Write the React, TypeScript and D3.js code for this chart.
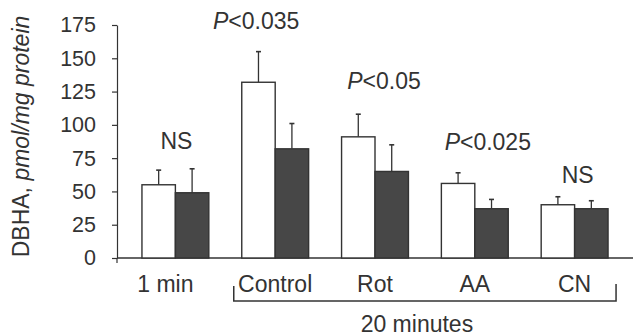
import React, { useEffect, useRef } from 'react';
import * as d3 from 'd3';

// values (DBHA, pmol/mg protein)
const groups = ['1 min', 'Control', 'Rot', 'AA', 'CN'];
const openMeans = [55, 132, 91, 56, 40];
const openErrors = [11, 23, 17, 8, 6];
const filledMeans = [49, 82, 65, 37, 37];
const filledErrors = [18, 19, 20, 7, 6];
const annotations = ['NS', 'P<0.035', 'P<0.05', 'P<0.025', 'NS'];
const annotationLevels = [82, 172, 127, 81, 56];
const yTicks = [0, 25, 50, 75, 100, 125, 150, 175];
const bracketLabel = '20 minutes';

const W = 633, H = 336;
const FONT = '"Liberation Sans", Arial, Helvetica, sans-serif';
const INK = '#333';
// the labels in the original are not quite centred over their groups
const annotationNudge = [1, -19, 9, 13, 3];

const App = () => {
  const ref = useRef<SVGSVGElement>(null);

  useEffect(() => {
    const svg = d3.select(ref.current);
    svg.selectAll('*').remove();

    const left = 117, right = W, top = 25, bottom = 258;

    const x = d3.scaleBand().domain(groups).range([left, right])
      .paddingInner(0.33).paddingOuter(0.25);
    const y = d3.scaleLinear().domain([0, 175]).range([bottom, top]);
    const bw = x.bandwidth() / 2;

    // y axis
    const yAxis = svg.append('g')
      .attr('transform', `translate(${left},0)`)
      .call(d3.axisLeft(y).tickValues(yTicks).tickSize(5).tickSizeOuter(0).tickPadding(16));
    yAxis.select('.domain').attr('stroke', INK).attr('stroke-width', 1.2);
    yAxis.selectAll('.tick line').attr('stroke', INK).attr('stroke-width', 1.2);
    yAxis.selectAll('.tick text')
      .attr('font-family', FONT).attr('font-size', 21.5).attr('fill', INK);

    // baseline
    svg.append('line')
      .attr('x1', left).attr('x2', right)
      .attr('y1', y(0)).attr('y2', y(0))
      .attr('stroke', INK).attr('stroke-width', 1.4);
    svg.append('line')
      .attr('x1', left).attr('x2', left)
      .attr('y1', y(0)).attr('y2', y(0) + 5)
      .attr('stroke', INK).attr('stroke-width', 1.2);

    const series = [
      { means: openMeans, errs: openErrors, fill: '#fff', off: 0 },
      { means: filledMeans, errs: filledErrors, fill: '#474747', off: bw },
    ];

    series.forEach(s => {
      const g = svg.append('g');
      groups.forEach((c, i) => {
        const cx = (x(c) as number) + s.off + bw / 2;
        const yt = y(s.means[i] + s.errs[i]);
        g.append('line')
          .attr('x1', cx).attr('x2', cx)
          .attr('y1', y(s.means[i])).attr('y2', yt)
          .attr('stroke', INK).attr('stroke-width', 1.3);
        g.append('line')
          .attr('x1', cx - 2.5).attr('x2', cx + 2.5)
          .attr('y1', yt).attr('y2', yt)
          .attr('stroke', INK).attr('stroke-width', 1.6);
      });
      g.selectAll('rect')
        .data(groups)
        .enter()
        .append('rect')
        .attr('x', d => (x(d) as number) + s.off)
        .attr('y', (d, i) => y(s.means[i]))
        .attr('width', bw)
        .attr('height', (d, i) => y(0) - y(s.means[i]))
        .attr('fill', s.fill)
        .attr('stroke', INK)
        .attr('stroke-width', 1.4);
    });

    // significance labels
    groups.forEach((c, i) => {
      const t = svg.append('text')
        .attr('x', (x(c) as number) + x.bandwidth() / 2 + annotationNudge[i])
        .attr('y', y(annotationLevels[i]))
        .attr('text-anchor', 'middle')
        .attr('font-family', FONT).attr('font-size', 23).attr('fill', INK);
      const a = annotations[i];
      if (a.startsWith('P')) {
        t.append('tspan').attr('font-style', 'italic').text('P');
        t.append('tspan').text(a.slice(1));
      } else {
        t.text(a);
      }
    });

    // category labels
    svg.append('g').selectAll('text')
      .data(groups)
      .enter()
      .append('text')
      .attr('x', (d, i) => (x(d) as number) + x.bandwidth() / 2 + (i === 0 ? -10 : 0))
      .attr('y', 291.5)
      .attr('text-anchor', 'middle')
      .attr('font-family', FONT).attr('font-size', 23).attr('fill', INK)
      .text(d => d);

    // bracket for the 20 minute groups
    const bx0 = (x('Control') as number) - 8;
    const bx1 = (x('CN') as number) + x.bandwidth() + 8;
    svg.append('path')
      .attr('d', `M${bx0},286V301H${bx1}V284`)
      .attr('fill', 'none').attr('stroke', INK).attr('stroke-width', 1.5);
    svg.append('text')
      .attr('x', (bx0 + bx1) / 2 - 8)
      .attr('y', 331.5)
      .attr('text-anchor', 'middle')
      .attr('font-family', FONT).attr('font-size', 23).attr('fill', INK)
      .text(bracketLabel);

    // y title
    const yt = svg.append('text')
      .attr('transform', `translate(29,${(top + bottom) / 2 - 5}) rotate(-90)`)
      .attr('text-anchor', 'middle')
      .attr('font-family', FONT).attr('font-size', 23).attr('fill', INK);
    yt.append('tspan').text('DBHA, ');
    yt.append('tspan').attr('font-style', 'italic').text('pmol/mg protein');
  }, []);

  return <svg ref={ref} width={W} height={H}
    style={{ position: 'absolute', left: 0, top: 0, background: '#fff' }} />;
};

export default App;
